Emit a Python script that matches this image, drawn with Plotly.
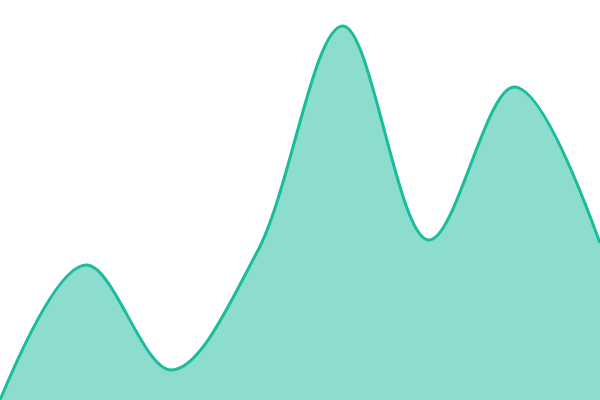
import plotly.graph_objects as go

x_vals = [0, 1, 2, 3, 4, 5, 6, 7]
y_vals = [0, 135, 30, 148, 374, 160, 313, 157]

fig = go.Figure()
fig.add_trace(go.Scatter(
    x=x_vals, y=y_vals,
    mode="lines",
    line=dict(color="#1abc9c", width=3, shape="spline", smoothing=1),
    fill="tozeroy",
    fillcolor="rgba(26,188,156,0.5)",
    hoverinfo="skip",
))

fig.update_layout(
    width=600, height=400,
    margin=dict(l=0, r=0, t=0, b=0),
    paper_bgcolor="white", plot_bgcolor="white",
    showlegend=False,
    xaxis=dict(range=[0, 7], visible=False),
    yaxis=dict(range=[0, 400], visible=False),
)

# drop the browser's default 8px body margin so the plot sits flush
fig.write_html("out.html", config={"displayModeBar": False},
               post_script="document.body.style.margin='0';")
